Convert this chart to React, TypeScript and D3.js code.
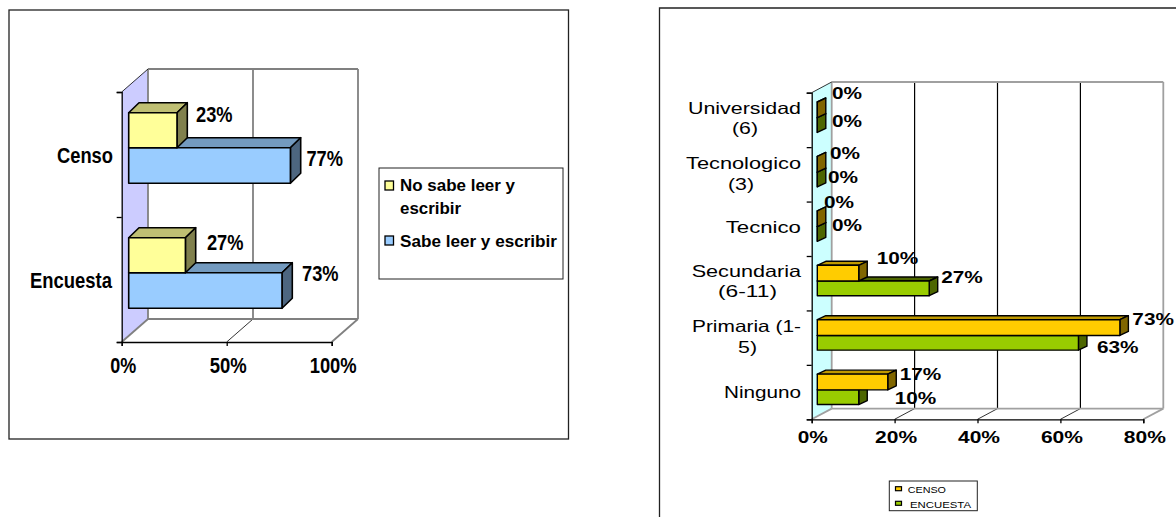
import { useEffect, useRef } from "react";
import * as d3 from "d3";

// left chart
const litCategories = ["Censo", "Encuesta"];
const noSabe = [23, 27];
const sabe = [77, 73];
const litTicks = [0, 50, 100];

// right chart (top to bottom)
const eduCategories = ["Universidad", "Tecnologico", "Tecnico", "Secundaria", "Primaria", "Ninguno"];
const censo = [0, 0, 0, 10, 73, 17];
const encuesta = [0, 0, 0, 27, 63, 10];
const eduTicks = [0, 20, 40, 60, 80];

// label placement, not data: [start offset from bar end, centre y]
const litLabelPos = [
  [[19, 114], [16, 158]],
  [[21.5, 242], [20, 273]],
];
const eduLabelPos = [
  [[14.7, 93], [14.7, 121]],
  [[12.7, 153], [10.7, 177]],
  [[6.7, 202], [14.7, 225]],
  [[18, 258], [12, 277]],
  [[12.5, 319], [18.5, 347]],
  [[12, 374], [36, 398]],
];
// [text, x start, x end, centre y]
const litCatText: [string, number, number, number][] = [
  ["Censo", 57, 113, 155],
  ["Encuesta", 30, 112, 280],
];
const eduCatText: [string, number, number, number][] = [
  ["Universidad", 688, 801, 107.7],
  ["(6)", 732, 758, 128.5],
  ["Tecnologico", 686, 801, 162.7],
  ["(3)", 728, 754, 184],
  ["Tecnico", 725.7, 801, 226.7],
  ["Secundaria", 691.7, 801, 270.7],
  ["(6-11)", 718, 777, 291],
  ["Primaria (1-", 692, 801, 326],
  ["5)", 738, 757, 346.7],
  ["Ninguno", 724, 801, 391.7],
];

type Sel = d3.Selection<SVGGElement, unknown, null, undefined>;

function stretched(g: Sel, s: string, x0: number, x1: number, cy: number, size: number, weight: string) {
  g.append("text")
    .attr("x", x0)
    .attr("y", cy)
    .attr("dy", "0.36em")
    .attr("textLength", x1 - x0)
    .attr("lengthAdjust", "spacingAndGlyphs")
    .attr("font-family", "'Liberation Sans', Arial, sans-serif")
    .attr("font-size", size)
    .attr("font-weight", weight)
    .attr("fill", "#000")
    .text(s);
}

function poly(g: Sel, pts: number[][], fill: string, stroke: string, sw: number) {
  g.append("path")
    .attr("d", d3.line()(pts as [number, number][]) + "Z")
    .attr("fill", fill)
    .attr("stroke", stroke)
    .attr("stroke-width", sw)
    .attr("stroke-linejoin", "round");
}

function box(g: Sel, x0: number, x1: number, y0: number, y1: number, dx: number, dy: number, c: string[], sw: number) {
  poly(g, [[x0, y0], [x0 + dx, y0 - dy], [x1 + dx, y0 - dy], [x1, y0]], c[1], "#000", sw);
  poly(g, [[x1, y0], [x1 + dx, y0 - dy], [x1 + dx, y1 - dy], [x1, y1]], c[2], "#000", sw);
  poly(g, [[x0, y0], [x1, y0], [x1, y1], [x0, y1]], c[0], "#000", sw);
}

type Cfg = {
  x: d3.ScaleLinear<number, number>;
  y: d3.ScaleBand<string>;
  ticks: number[];
  depth: [number, number];
  wall: string;
  midGrid: string;
  midW: number;
  edgeGrid: string;
  gridW: number;
  gap: number;
  bars: [number, number, number];
  barDepth: [number, number];
  series: number[][];
  colors: string[][];
  barW: number;
};

function plot(g: Sel, c: Cfg) {
  const [dx, dy] = c.depth;
  const [x0, x1] = c.x.range();
  const [yT, yB] = c.y.range();
  const n = c.y.domain().length;
  // side wall
  poly(g, [[x0, yT], [x0 + dx, yT - dy], [x0 + dx, yB - dy], [x0, yB]], c.wall, "none", 0);
  // back wall grid and floor lines
  c.ticks.forEach((t, i) => {
    const px = c.x(t);
    const edge = i === c.ticks.length - 1 || i === 0;
    g.append("line")
      .attr("x1", px + dx).attr("x2", px + dx)
      .attr("y1", yT - dy).attr("y2", yB - dy)
      .attr("stroke", edge ? c.edgeGrid : c.midGrid)
      .attr("stroke-width", edge ? c.gridW : c.midW);
    g.append("line")
      .attr("x1", px).attr("x2", px + dx)
      .attr("y1", yB).attr("y2", yB - dy)
      .attr("stroke", edge ? c.edgeGrid : "#000")
      .attr("stroke-width", edge ? c.gridW : 0.8);
  });
  g.append("line").attr("x1", x0 + dx).attr("x2", x1 + dx).attr("y1", yT - dy).attr("y2", yT - dy)
    .attr("stroke", c.edgeGrid).attr("stroke-width", c.gridW);
  g.append("line").attr("x1", x0 + dx).attr("x2", x1 + dx).attr("y1", yB - dy).attr("y2", yB - dy)
    .attr("stroke", c.edgeGrid).attr("stroke-width", c.gridW);
  g.append("line").attr("x1", x0).attr("x2", x0 + dx).attr("y1", yT).attr("y2", yT - dy)
    .attr("stroke", "#000").attr("stroke-width", 0.8);

  // bars: second series first so the front one overlaps its top face
  const [a, b, e] = c.bars;
  c.y.domain().forEach((cat, i) => {
    const top = c.y(cat)!;
    const first = c.series[0][i];
    const second = c.series[1][i];
    box(g, x0 + c.gap, c.x(second) + c.gap, top + b, top + e, c.barDepth[0], c.barDepth[1], c.colors[1], c.barW);
    box(g, x0 + c.gap, c.x(first) + c.gap, top + a, top + b, c.barDepth[0], c.barDepth[1], c.colors[0], c.barW);
  });

  // axes
  const xAxis = g.append("g").attr("transform", `translate(0,${yB})`)
    .call(d3.axisBottom(c.x).tickValues(c.ticks).tickSize(4).tickFormat(() => ""));
  xAxis.selectAll("path,line").attr("stroke", "#000").attr("stroke-width", 1.3);
  const yEdge = d3.scaleLinear().domain([0, n]).range([yT, yB]);
  const yAxis = g.append("g").attr("transform", `translate(${x0},0)`)
    .call(d3.axisLeft(yEdge).tickValues(d3.range(n + 1)).tickSize(5).tickFormat(() => ""));
  yAxis.selectAll("path,line").attr("stroke", "#000").attr("stroke-width", 1.3);
}

function plotWrap(
  g: Sel,
  x: d3.ScaleLinear<number, number>,
  y: d3.ScaleBand<string>,
  rest: Omit<Cfg, "x" | "y">
) {
  plot(g.append("g") as unknown as Sel, { x, y, ...rest });
}

export default function App() {
  const ref = useRef<SVGSVGElement>(null);

  useEffect(() => {
    const svg = d3.select(ref.current!);
    svg.selectAll("*").remove();
    const root = svg.append("g") as unknown as Sel;

    // frames
    root.append("rect").attr("x", 9).attr("y", 10).attr("width", 559.5).attr("height", 429)
      .attr("fill", "#fff").attr("stroke", "#222").attr("stroke-width", 1.3);
    root.append("path").attr("d", "M659.5,517V8H1176").attr("fill", "none").attr("stroke", "#222").attr("stroke-width", 1.3);

    // left chart
    const xL = d3.scaleLinear().domain([0, 100]).range([121.7, 331.7]);
    const yL = d3.scaleBand().domain(litCategories).range([92, 342]);
    const leftColors = [
      ["#FFFF99", "#BFBF73", "#80804D"],
      ["#99CCFF", "#739ABF", "#4D6680"],
    ];
    plotWrap(root, xL, yL, {
      ticks: litTicks, depth: [26.3, 23], wall: "#CCCCFF", midGrid: "#808080", midW: 1.8, edgeGrid: "#808080", gridW: 1.8,
      gap: 7, bars: [20.7, 55.7, 91.3], barDepth: [10.3, 10], series: [noSabe, sabe], colors: leftColors, barW: 1.6,
    });
    litCatText.forEach(([s, a, b, cy]) => stretched(root, s, a, b, cy, 22, "bold"));
    litCategories.forEach((_, i) => {
      [noSabe[i], sabe[i]].forEach((v, k) => {
        const [off, cy] = litLabelPos[i][k];
        const end = xL(v) + 7 + off;
        stretched(root, `${v}%`, end, end + 36.5, cy, 22, "bold");
      });
    });
    [[0, 26], [50, 37], [100, 47]].forEach(([t, w]) => {
      const cx = xL(t) + 1.5;
      stretched(root, `${t}%`, cx - w / 2, cx + w / 2, 365, 22, "bold");
    });
    // left legend
    root.append("rect").attr("x", 379).attr("y", 168).attr("width", 184).attr("height", 111)
      .attr("fill", "#fff").attr("stroke", "#222").attr("stroke-width", 1);
    root.append("rect").attr("x", 385).attr("y", 181).attr("width", 8.5).attr("height", 9)
      .attr("fill", "#FFFF99").attr("stroke", "#000").attr("stroke-width", 1.3);
    root.append("rect").attr("x", 385).attr("y", 236).attr("width", 8.5).attr("height", 9)
      .attr("fill", "#99CCFF").attr("stroke", "#000").attr("stroke-width", 1.3);
    stretched(root, "No sabe leer y", 400, 515, 185, 16.5, "bold");
    stretched(root, "escribir", 400, 461, 208, 16.5, "bold");
    stretched(root, "Sabe leer y escribir", 400, 557, 240.7, 16.5, "bold");

    // right chart
    const xR = d3.scaleLinear().domain([0, 80]).range([811.7, 1143.3]);
    const yR = d3.scaleBand().domain(eduCategories).range([92.7, 419.3]);
    const rightColors = [
      ["#FFCC00", "#BF9900", "#806600"],
      ["#99CC00", "#4D6600", "#4D6600"],
    ];
    plotWrap(root, xR, yR, {
      ticks: eduTicks, depth: [20, 10.7], wall: "#CCFFFF", midGrid: "#000", midW: 1.2, edgeGrid: "#A0A0A0", gridW: 1.8,
      gap: 5.6, bars: [9.3, 25, 39.7], barDepth: [8.5, 4], series: [censo, encuesta], colors: rightColors, barW: 1.4,
    });
    eduCatText.forEach(([s, a, b, cy]) => stretched(root, s, a, b, cy, 16.5, "normal"));
    eduCategories.forEach((_, i) => {
      [censo[i], encuesta[i]].forEach((v, k) => {
        const [off, cy] = eduLabelPos[i][k];
        const end = xR(v) + 5.6 + off;
        stretched(root, `${v}%`, end, end + (v === 0 ? 30 : 41.5), cy, 16, "bold");
      });
    });
    eduTicks.forEach((t) => {
      const w = t === 0 ? 30 : 42;
      const cx = xR(t) + (t === 0 ? 1 : 1.5);
      stretched(root, `${t}%`, cx - w / 2, cx + w / 2, 437, 16, "bold");
    });
    // right legend
    root.append("rect").attr("x", 889.3).attr("y", 481).attr("width", 88).attr("height", 29.7)
      .attr("fill", "#fff").attr("stroke", "#222").attr("stroke-width", 1);
    root.append("rect").attr("x", 895.5).attr("y", 486.7).attr("width", 6).attr("height", 4)
      .attr("fill", "#FFCC00").attr("stroke", "#000").attr("stroke-width", 1.2);
    root.append("rect").attr("x", 895.5).attr("y", 501.3).attr("width", 6).attr("height", 4)
      .attr("fill", "#99CC00").attr("stroke", "#000").attr("stroke-width", 1.2);
    stretched(root, "CENSO", 907.7, 946, 490, 8.5, "normal");
    stretched(root, "ENCUESTA", 910, 971, 505, 8.5, "normal");
  }, []);

  return (
    <svg
      ref={ref}
      width={1176}
      height={517}
      style={{ position: "absolute", left: 0, top: 0, display: "block", background: "#fff" }}
    />
  );
}
